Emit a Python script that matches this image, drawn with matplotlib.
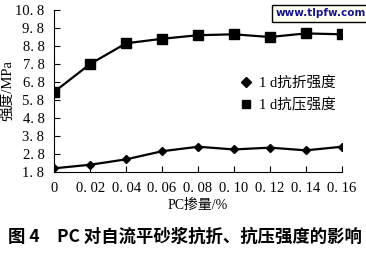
import matplotlib
matplotlib.use('Agg')
import matplotlib.pyplot as plt
from matplotlib.lines import Line2D

plt.rcParams['font.family'] = ['Liberation Serif', 'Noto Sans CJK SC']

pc = [0, 0.02, 0.04, 0.06, 0.08, 0.10, 0.12, 0.14, 0.16]
flex = [2.0, 2.2, 2.5, 2.95, 3.2, 3.05, 3.15, 3.0, 3.2]
comp = [6.25, 7.8, 8.95, 9.2, 9.4, 9.45, 9.3, 9.5, 9.45]
xticks = ['0', '0. 02', '0. 04', '0. 06', '0. 08', '0. 10', '0. 12', '0. 14', '0. 16']
yticks = [1.8, 2.8, 3.8, 4.8, 5.8, 6.8, 7.8, 8.8, 9.8, 10.8]

fig = plt.figure(figsize=(3.66, 2.57), dpi=100)
ax = fig.add_axes([0.148, 0.331, 0.786, 0.630])

ax.plot(pc, flex, 'D-', color='black', ms=4.5, lw=1.6)
ax.plot(pc, comp, 's-', color='black', ms=6.5, lw=1.6)

ax.set_xlim(0, 0.16)
ax.set_ylim(1.8, 10.8)
ax.set_xticks(pc)
ax.set_xticklabels(xticks)
ax.set_yticks(yticks)
ax.set_yticklabels([('%.1f' % v).replace('.', '. ') for v in yticks])
ax.tick_params(direction='in', labelsize=10.5, length=4, pad=7)
for s in ['top', 'right']:
    ax.spines[s].set_visible(False)
ax.set_xlabel('PC掺量/%', fontsize=10, labelpad=3)
ax.set_ylabel('强度/MPa', fontsize=10.5, labelpad=1)

handles = [Line2D([], [], ls='none', marker='D', color='black', ms=5),
           Line2D([], [], ls='none', marker='s', color='black', ms=6)]
ax.legend(handles, ['1 d抗折强度', '1 d抗压强度'], loc='center left',
          bbox_to_anchor=(0.6, 0.48), frameon=False, fontsize=10.5,
          handlelength=0.8, handletextpad=0.5, labelspacing=0.55)

fig.text(0.752, 0.948, 'www.tlpfw.com', color='#14148c', fontsize=7.5,
         fontweight='bold', family='DejaVu Sans', va='center',
         bbox=dict(facecolor='#fffff2', edgecolor='black', pad=2.5, lw=1))

fig.text(0.022, 0.058, '图 4　PC 对自流平砂浆抗折、抗压强度的影响',
         fontsize=12.5, fontweight='bold', family=['Noto Sans CJK SC'])

fig.savefig('out.png', dpi=100)
